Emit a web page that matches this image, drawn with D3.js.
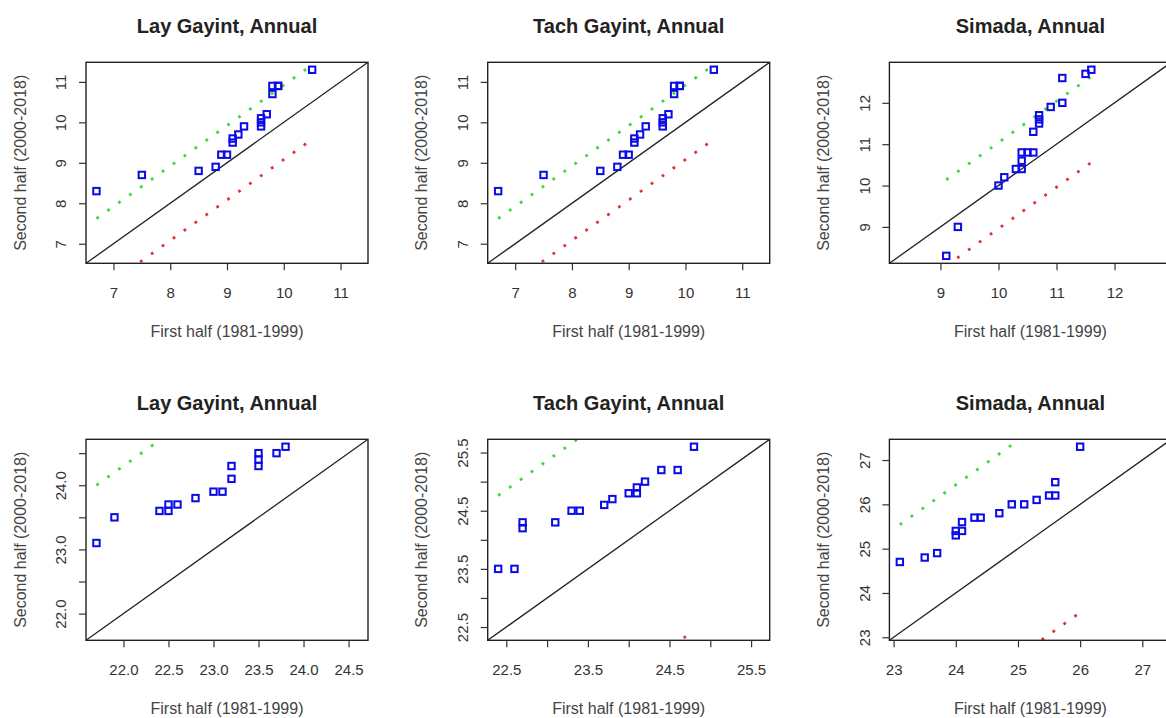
<!DOCTYPE html>
<html>
<head>
<meta charset="utf-8">
<script src="https://cdn.jsdelivr.net/npm/d3@7"></script>
<style>
  body { margin: 0; background: #fff; }
  text { font-family: "Liberation Sans", Arial, Helvetica, sans-serif; }
</style>
</head>
<body>
<div id="chart"></div>
<script>
// Quantile pairs: sorted first half (1981-1999) vs sorted second half (2000-2018)
const layTopFirst   = [6.7, 7.5, 8.5, 8.8, 8.9, 9.0, 9.1, 9.1, 9.2, 9.3, 9.6, 9.6, 9.6, 9.7, 9.8, 9.8, 9.9, 9.9, 10.5];
const layTopSecond  = [8.3, 8.7, 8.8, 8.9, 9.2, 9.2, 9.5, 9.6, 9.7, 9.9, 9.9, 10.0, 10.1, 10.2, 10.7, 10.9, 10.9, 10.9, 11.3];
const tachTopFirst  = [6.7, 7.5, 8.5, 8.8, 8.9, 9.0, 9.1, 9.1, 9.2, 9.3, 9.6, 9.6, 9.6, 9.7, 9.8, 9.8, 9.9, 9.9, 10.5];
const tachTopSecond = [8.3, 8.7, 8.8, 8.9, 9.2, 9.2, 9.5, 9.6, 9.7, 9.9, 9.9, 10.0, 10.1, 10.2, 10.7, 10.9, 10.9, 10.9, 11.3];
const simTopFirst   = [9.1, 9.3, 10.0, 10.1, 10.3, 10.4, 10.4, 10.4, 10.5, 10.6, 10.6, 10.7, 10.7, 10.7, 10.9, 11.1, 11.1, 11.5, 11.6];
const simTopSecond  = [8.3, 9.0, 10.0, 10.2, 10.4, 10.4, 10.6, 10.8, 10.8, 10.8, 11.3, 11.5, 11.6, 11.7, 11.9, 12.0, 12.6, 12.7, 12.8];

const layBotFirst   = [21.7, 21.9, 22.4, 22.5, 22.5, 22.6, 22.8, 23.0, 23.1, 23.2, 23.2, 23.5, 23.5, 23.5, 23.7, 23.8];
const layBotSecond  = [23.1, 23.5, 23.6, 23.6, 23.7, 23.7, 23.8, 23.9, 23.9, 24.1, 24.3, 24.3, 24.4, 24.5, 24.5, 24.6];
const tachBotFirst  = [22.4, 22.6, 22.7, 22.7, 23.1, 23.3, 23.4, 23.7, 23.8, 24.0, 24.1, 24.1, 24.2, 24.4, 24.6, 24.8];
const tachBotSecond = [23.5, 23.5, 24.2, 24.3, 24.3, 24.5, 24.5, 24.6, 24.7, 24.8, 24.8, 24.9, 25.0, 25.2, 25.2, 25.6];
const simBotFirst   = [23.1, 23.5, 23.7, 24.0, 24.0, 24.1, 24.1, 24.3, 24.4, 24.7, 24.9, 25.1, 25.3, 25.5, 25.6, 25.6, 26.0];
const simBotSecond  = [24.7, 24.8, 24.9, 25.3, 25.4, 25.4, 25.6, 25.7, 25.7, 25.8, 26.0, 26.0, 26.1, 26.2, 26.2, 26.5, 27.3];

// Offsets of the green (upper) and red (lower) dotted bands around y = x
const bandOffsets = [0.92, 0.92, 1.04, 2.3, 2.36, 2.44];

// Tick values and which of them get a label
const ticksTop    = [[7, 8, 9, 10, 11], [7, 8, 9, 10, 11], [9, 10, 11, 12]];
const ticksBot    = [[22.0, 22.5, 23.0, 23.5, 24.0, 24.5], [22.5, 23.0, 23.5, 24.0, 24.5, 25.0, 25.5], [23, 24, 25, 26, 27]];
const xLabelsBot  = [[22.0, 22.5, 23.0, 23.5, 24.0, 24.5], [22.5, 23.5, 24.5, 25.5], [23, 24, 25, 26, 27]];
const yLabelsBot  = [[22.0, 23.0, 24.0], [22.5, 23.5, 24.5, 25.5], [23, 24, 25, 26, 27]];

const stations = ["Lay Gayint", "Tach Gayint", "Simada"];

const panels = [
  {first: layTopFirst,  second: layTopSecond,  ticks: ticksTop[0], xl: ticksTop[0], yl: ticksTop[0]},
  {first: tachTopFirst, second: tachTopSecond, ticks: ticksTop[1], xl: ticksTop[1], yl: ticksTop[1]},
  {first: simTopFirst,  second: simTopSecond,  ticks: ticksTop[2], xl: ticksTop[2], yl: ticksTop[2]},
  {first: layBotFirst,  second: layBotSecond,  ticks: ticksBot[0], xl: xLabelsBot[0], yl: yLabelsBot[0]},
  {first: tachBotFirst, second: tachBotSecond, ticks: ticksBot[1], xl: xLabelsBot[1], yl: yLabelsBot[1]},
  {first: simBotFirst,  second: simBotSecond,  ticks: ticksBot[2], xl: xLabelsBot[2], yl: yLabelsBot[2]}
];

const W = 1166, H = 718;
const panelW = 282, panelH = 201;
const left0 = 86, colStep = 401.7;
const top0 = 62.3, rowStep = 377;

const svg = d3.select("#chart")
  .append("svg")
    .attr("width", W)
    .attr("height", H)
    .attr("viewBox", [0, 0, W, H]);

svg.append("rect").attr("width", W).attr("height", H).attr("fill", "#fff");

panels.forEach((p, i) => {
  const col = i % 3, row = Math.floor(i / 3);
  const x0 = left0 + col * colStep;
  const y0 = top0 + row * rowStep;
  const g = svg.append("g").attr("transform", `translate(${x0},${y0})`);

  // R style limits: common range of both halves, extended by 4%
  const all = p.first.concat(p.second);
  const lo = d3.min(all), hi = d3.max(all);
  const pad = 0.04 * (hi - lo);
  const dom = [lo - pad, hi + pad];

  const x = d3.scaleLinear().domain(dom).range([0, panelW]);
  const y = d3.scaleLinear().domain(dom).range([panelH, 0]);

  const fmt = p.ticks.some(d => d % 1 !== 0) ? d3.format(".1f") : d3.format("d");

  g.append("clipPath").attr("id", "clip" + i)
    .append("rect").attr("width", panelW).attr("height", panelH);

  const plot = g.append("g").attr("clip-path", `url(#clip${i})`);

  // 1:1 line
  plot.append("line")
    .attr("x1", x(dom[0])).attr("y1", y(dom[0]))
    .attr("x2", x(dom[1])).attr("y2", y(dom[1]))
    .attr("stroke", "#222").attr("stroke-width", 1.3);

  // dotted bands
  const xr = d3.extent(p.first);
  const off = bandOffsets[i];
  const line = d3.line().x(d => x(d[0])).y(d => y(d[1]));
  plot.append("path")
    .attr("d", line(xr.map(v => [v, v + off])))
    .attr("fill", "none").attr("stroke", "#3cd83c")
    .attr("stroke-width", 2.8).attr("stroke-dasharray", "2.8,10.6");
  plot.append("path")
    .attr("d", line(xr.map(v => [v, v - off])))
    .attr("fill", "none").attr("stroke", "#e03434")
    .attr("stroke-width", 2.8).attr("stroke-dasharray", "2.8,10.6");

  // points
  plot.selectAll(".pt")
    .data(d3.zip(p.first, p.second))
    .join("rect")
      .attr("class", "pt")
      .attr("x", d => x(d[0]) - 3.2)
      .attr("y", d => y(d[1]) - 3.2)
      .attr("width", 6.4).attr("height", 6.4)
      .attr("fill", "none").attr("stroke", "#0a0ae8").attr("stroke-width", 2);

  // box
  g.append("rect")
    .attr("width", panelW).attr("height", panelH)
    .attr("fill", "none").attr("stroke", "#222").attr("stroke-width", 1.4);

  // x axis
  const gx = g.append("g")
    .attr("transform", `translate(0,${panelH})`)
    .call(d3.axisBottom(x).tickValues(p.ticks).tickSize(7)
      .tickFormat(d => p.xl.includes(d) ? fmt(d) : ""));
  gx.select(".domain").remove();
  gx.selectAll("line").attr("stroke", "#333").attr("stroke-width", 1.2);
  gx.selectAll("text")
    .attr("y", 29).attr("dy", "0.35em")
    .attr("fill", "#333").style("font-size", "15px");

  // y axis
  const gy = g.append("g")
    .call(d3.axisLeft(y).tickValues(p.ticks).tickSize(7)
      .tickFormat(d => p.yl.includes(d) ? fmt(d) : ""));
  gy.select(".domain").remove();
  gy.selectAll("line").attr("stroke", "#333").attr("stroke-width", 1.2);
  gy.selectAll("text")
    .attr("x", 0).attr("y", -25).attr("dy", "0.35em")
    .attr("text-anchor", "middle")
    .attr("transform", "rotate(-90)")
    .attr("fill", "#333").style("font-size", "15px");

  // title and axis titles
  g.append("text")
    .attr("x", panelW / 2).attr("y", -36).attr("dy", "0.35em")
    .attr("text-anchor", "middle")
    .attr("fill", "#222")
    .style("font-size", "20px").style("font-weight", "bold")
    .text(stations[col] + ", Annual");

  g.append("text")
    .attr("x", panelW / 2).attr("y", panelH + 68).attr("dy", "0.35em")
    .attr("text-anchor", "middle")
    .attr("fill", "#444").style("font-size", "16px")
    .text("First half (1981-1999)");

  g.append("text")
    .attr("transform", `translate(-66,${panelH / 2}) rotate(-90)`)
    .attr("dy", "0.35em")
    .attr("text-anchor", "middle")
    .attr("fill", "#444").style("font-size", "16px")
    .text("Second half (2000-2018)");
});
</script>
</body>
</html>
